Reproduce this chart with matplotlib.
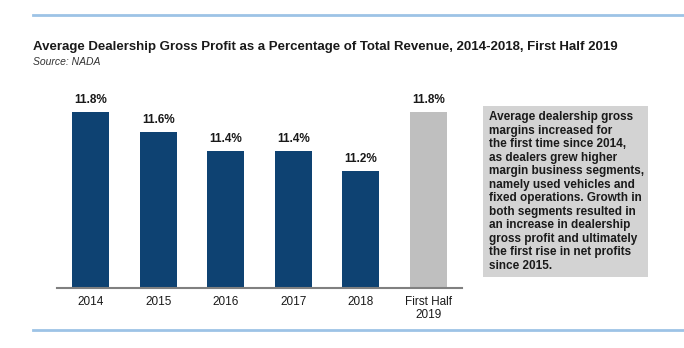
import matplotlib
matplotlib.use("Agg")
import matplotlib.pyplot as plt
from matplotlib.patches import Rectangle
from matplotlib.lines import Line2D

categories = ["2014", "2015", "2016", "2017", "2018", "First Half\n2019"]
values = [11.8, 11.6, 11.4, 11.4, 11.2, 11.8]
labels = ["11.8%", "11.6%", "11.4%", "11.4%", "11.2%", "11.8%"]
colors = ["#0e4272"] * 5 + ["#bfbfbf"]

title = "Average Dealership Gross Profit as a Percentage of Total Revenue, 2014-2018, First Half 2019"
source = "Source: NADA"
note = ("Average dealership gross\nmargins increased for\nthe first time since 2014,\n"
        "as dealers grew higher\nmargin business segments,\nnamely used vehicles and\n"
        "fixed operations. Growth in\nboth segments resulted in\nan increase in dealership\n"
        "gross profit and ultimately\nthe first rise in net profits\nsince 2015.")

plt.rcParams['font.family'] = ['Liberation Sans', 'DejaVu Sans']
W, H = 684, 348
fig = plt.figure(figsize=(W / 100, H / 100), dpi=100)

def fx(x): return x / W
def fy(y): return 1 - y / H

# horizontal rules
for y in (15, 330):
    fig.add_artist(Line2D([fx(33), 1], [fy(y), fy(y)], color="#9dc3e6", lw=2.0))

fig.text(fx(33), fy(47), title, fontsize=9.5, fontweight="bold", color="#1a1a1a", va="center", ha="left")
fig.text(fx(33), fy(62), source, fontsize=7.5, style="italic", color="#333333", va="center", ha="left")

ax = fig.add_axes([fx(57), fy(288), fx(462) - fx(57), (288 - 90) / H])
x = list(range(len(categories)))
bars = ax.bar(x, values, width=0.55, color=colors, bottom=0)
ax.set_ylim(10.0, 12.03)
ax.set_xlim(-0.5, 5.5)
for xi, v, lab in zip(x, values, labels):
    ax.text(xi, v + 0.065, lab, ha="center", va="bottom", fontsize=8.5, fontweight="bold", color="#1a1a1a")
ax.set_xticks(x)
ax.set_xticklabels(categories, fontsize=8.5, color="#1a1a1a", linespacing=1.05)
ax.tick_params(axis="x", length=0, pad=6)
ax.set_yticks([])
for s in ("top", "right", "left"):
    ax.spines[s].set_visible(False)
ax.spines["bottom"].set_color("#808080")
ax.spines["bottom"].set_linewidth(1.5)

# note box
fig.add_artist(Rectangle((fx(483), fy(277)), fx(648) - fx(483), fy(106) - fy(277),
                         facecolor="#d3d3d3", edgecolor="none", transform=fig.transFigure))
fig.text(fx(489), fy(111), note, fontsize=8.5, fontweight="bold", color="#1a1a1a",
         va="top", ha="left", linespacing=1.17)

fig.savefig("out.png", dpi=100)
